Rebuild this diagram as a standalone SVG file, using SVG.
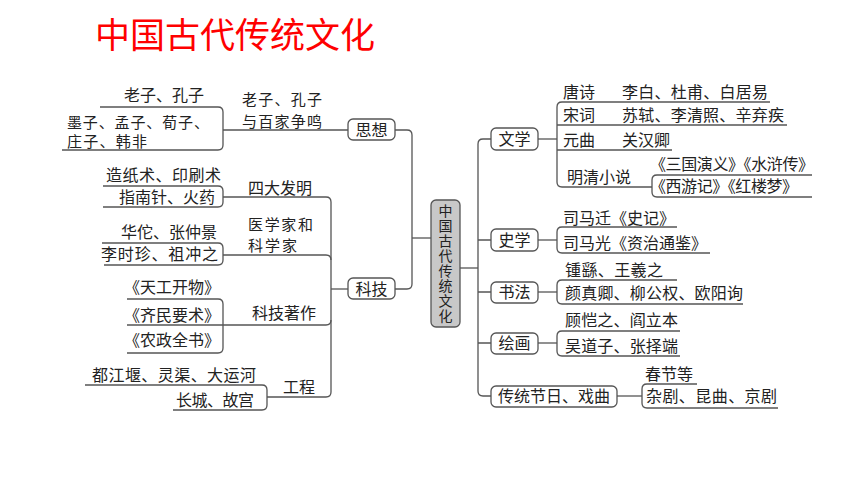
<svg xmlns="http://www.w3.org/2000/svg" width="860" height="484" viewBox="0 0 860 484">
<style>
text{font-family:"Noto Sans CJK SC","Noto Sans",sans-serif;font-size:16px;fill:#222}
.title{font-size:35px;fill:#ff0000}
.c{text-anchor:middle}
.ctr{font-size:14px;writing-mode:vertical-rl;letter-spacing:1px}
.sm{font-size:15px}
.box{fill:#fff;stroke:#555;stroke-width:1.3}
.core{fill:#c8c8c8;stroke:#555;stroke-width:1.3}
.ln{fill:none;stroke:#555;stroke-width:1.3}
</style>
<rect width="860" height="484" fill="#fff"/>
<text class="title" x="95" y="48">中国古代传统文化</text>

<g id="connectors">
<path class="ln" d="M395,130 H407 Q412,130 412,135 V284 Q412,289 407,289 H395"/>
<path class="ln" d="M412,238 H431"/>
<path class="ln" d="M460,268 H478"/>
<path class="ln" d="M491,139 H483 Q478,139 478,144 V391 Q478,396 483,396 H491"/>
<path class="ln" d="M478,240 H491 M478,292 H491 M478,343 H491"/>
<path class="ln" d="M100,107 H218 Q223,107 223,112 V145 Q223,150 218,150 H62"/>
<path class="ln" d="M223,130 H348"/>
<path class="ln" d="M103,186 H218 Q223,186 223,191 V202 Q223,207 218,207 H103"/>
<path class="ln" d="M223,197 H326 Q331,197 331,202 V392 Q331,397 326,397 H267"/>
<path class="ln" d="M331,289 H348"/>
<path class="ln" d="M102,243 H218 Q223,243 223,248 V260 Q223,265 218,265 H104"/>
<path class="ln" d="M223,255 H326 Q331,255 331,260"/>
<path class="ln" d="M127,299 H218 Q223,299 223,304 V348 Q223,353 218,353 H127"/>
<path class="ln" d="M127,325 H326 Q331,325 331,320"/>
<path class="ln" d="M85,385 H262 Q267,385 267,390 V405 Q267,410 262,410 H173"/>
<path class="ln" d="M538,139 H557"/>
<path class="ln" d="M770,102 H562 Q557,102 557,107 V182 Q557,187 562,187 H652"/>
<path class="ln" d="M557,125 H787 M557,150 H672"/>
<path class="ln" d="M812,175 H657 Q652,175 652,180 V192 Q652,197 657,197 H812"/>
<path class="ln" d="M538,240 H557"/>
<path class="ln" d="M677,227 H562 Q557,227 557,232 V248 Q557,253 562,253 H710"/>
<path class="ln" d="M538,292 H557"/>
<path class="ln" d="M677,280 H562 Q557,280 557,285 V299 Q557,304 562,304 H743"/>
<path class="ln" d="M538,343 H557"/>
<path class="ln" d="M680,331 H562 Q557,331 557,336 V351 Q557,356 562,356 H680"/>
<path class="ln" d="M617,396 H642"/>
<path class="ln" d="M697,384 H647 Q642,384 642,389 V403 Q642,408 647,408 H778"/>
</g>

<g id="core">
<rect class="core" x="431" y="200" width="29" height="127" rx="5"/>
<text class="ctr" x="445.5" y="204">中国古代传统文化</text>
</g>

<g id="sixiang">
<rect class="box" x="348" y="119" width="47" height="21" rx="5"/>
<text class="c" x="371.5" y="136">思想</text>
<text class="sm" x="242" y="105" textLength="80">老子、孔子</text>
<text class="sm" x="242" y="127" textLength="80">与百家争鸣</text>
<text x="124" y="101">老子、孔子</text>
<text class="sm" x="67" y="128" textLength="142">墨子、孟子、荀子、</text>
<text class="sm" x="67" y="147" textLength="80">庄子、韩非</text>
</g>

<g id="keji">
<rect class="box" x="348" y="278" width="47" height="21" rx="5"/>
<text class="c" x="371.5" y="295">科技</text>
<text x="248" y="194">四大发明</text>
<text x="106" y="181" textLength="115">造纸术、印刷术</text>
<text x="119" y="203">指南针、火药</text>
<text class="sm" x="248" y="230" textLength="65">医学家和</text>
<text class="sm" x="248" y="251" textLength="49">科学家</text>
<text x="121" y="238">华佗、张仲景</text>
<text x="101" y="260" textLength="117">李时珍、祖冲之</text>
<text x="252" y="319">科技著作</text>
<text x="124" y="293" textLength="96">《天工开物》</text>
<text x="124" y="321" textLength="96">《齐民要术》</text>
<text x="124" y="346" textLength="96">《农政全书》</text>
<text x="283" y="393">工程</text>
<text x="92" y="381" textLength="164">都江堰、灵渠、大运河</text>
<text x="176" y="406" textLength="78">长城、故宫</text>
</g>

<g id="wenxue">
<rect class="box" x="491" y="128" width="47" height="22" rx="5"/>
<text class="c" x="514.5" y="145">文学</text>
<text x="563" y="98">唐诗</text>
<text x="622" y="98" textLength="146">李白、杜甫、白居易</text>
<text x="563" y="121">宋词</text>
<text x="622" y="121" textLength="162">苏轼、李清照、辛弃疾</text>
<text x="563" y="146">元曲</text>
<text x="622" y="146">关汉卿</text>
<text x="567" y="183">明清小说</text>
<text x="650" y="170" textLength="164">《三国演义》《水浒传》</text>
<text x="650" y="192" textLength="148">《西游记》《红楼梦》</text>
</g>

<g id="shixue">
<rect class="box" x="491" y="229" width="47" height="22" rx="5"/>
<text class="c" x="514.5" y="246">史学</text>
<text x="563" y="224" textLength="112">司马迁《史记》</text>
<text x="563" y="249" textLength="144">司马光《资治通鉴》</text>
</g>

<g id="shufa">
<rect class="box" x="491" y="282" width="47" height="21" rx="5"/>
<text class="c" x="514.5" y="298">书法</text>
<text x="565" y="276" textLength="98">锺繇、王羲之</text>
<text x="565" y="299" textLength="178">颜真卿、柳公权、欧阳询</text>
</g>

<g id="huihua">
<rect class="box" x="491" y="333" width="47" height="21" rx="5"/>
<text class="c" x="514.5" y="349">绘画</text>
<text x="565" y="326" textLength="113">顾恺之、阎立本</text>
<text x="565" y="352" textLength="113">吴道子、张择端</text>
</g>

<g id="jieri">
<rect class="box" x="491" y="386" width="126" height="21" rx="5"/>
<text class="c" x="554" y="402">传统节日、戏曲</text>
<text x="645" y="380">春节等</text>
<text x="646" y="402" textLength="131">杂剧、昆曲、京剧</text>
</g>
</svg>
